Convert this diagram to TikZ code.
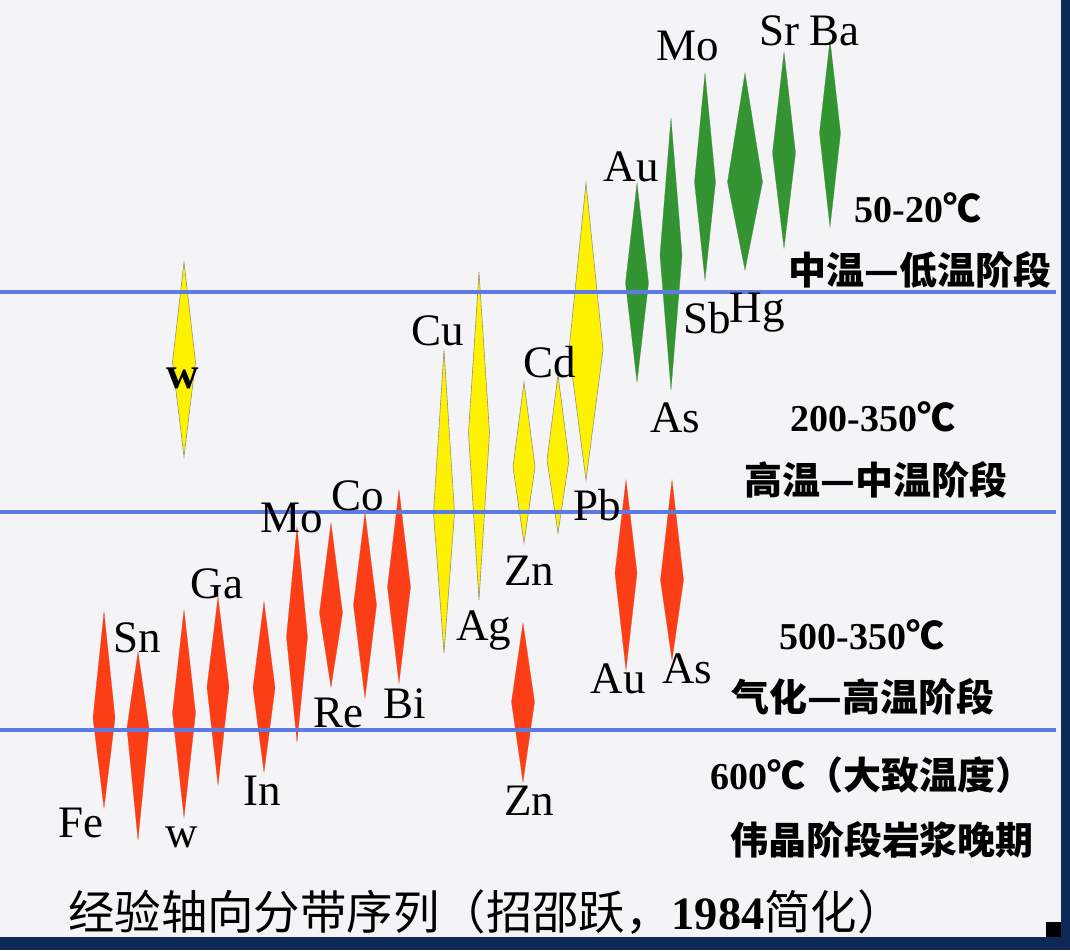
\documentclass[tikz,border=0pt]{standalone}
\usepackage{fontspec}
\setmainfont{Liberation Serif}
\newfontfamily\cjk{Noto Sans CJK SC}
\definecolor{basered}{RGB}{252,62,22}
\definecolor{baseyellow}{RGB}{255,242,0}
\definecolor{basegreen}{RGB}{52,148,50}
\definecolor{baseblue}{RGB}{92,122,226}
\definecolor{basebg}{RGB}{244,244,247}
\definecolor{basenavy}{RGB}{14,40,88}

\begin{document}
\begin{tikzpicture}[x=0.025cm, y=-0.025cm]
  \tikzset{
    red_vein/.style={fill=basered, draw=basered!85!gray, very thin},
    yellow_vein/.style={fill=baseyellow, draw=gray!85!olive, thin},
    green_vein/.style={fill=basegreen, draw=basegreen!85!gray, very thin},
    stage_line/.style={draw=baseblue, line width=3.4pt},
    elem_label/.style={anchor=base, inner sep=0pt, font=\fontsize{32}{36}\selectfont},
    stage_text/.style={inner sep=0pt, font={\fontsize{27}{30}\cjk\bfseries}},
    title_text/.style={inner sep=0pt, font={\fontsize{33}{36}\cjk}}
  }

  % page and frame
  \useasboundingbox (0,0) rectangle (1070,950);
  \fill[basebg] (0,0) rectangle (1070,950);
  \fill[basenavy] (0,937) rectangle (1070,950);
  \fill[basenavy] (1061,0) rectangle (1070,950);
  \fill[black] (1046,922) rectangle (1061,937);

  % veins: x / top / widest / bottom / half width
  \foreach \x/\t/\m/\b/\w in {104/612/718/808/11, 138/652/728/840/11, 184/610/713/817/11.5,
      218/597/687/785/11, 264/602/688/772/11, 297/527/637/742/10.5, 331/523/613/687/11.5,
      365/513/605/698/11.5, 399/490/587/683/11.5, 523/623/702/782/11.5,
      626/480/573/670/11, 672/480/580/660/11.5} {
    \filldraw[red_vein] (\x,\t) -- (\x+\w,\m) -- (\x,\b) -- (\x-\w,\m) -- cycle;
  }
  \foreach \x/\t/\m/\b/\w in {184/262/362/457/11.5, 444/350/513/653/10.5, 479/272/433/600/10.5,
      524/382/467/543/11, 558/375/460/533/11, 586/183/350/480/17} {
    \filldraw[yellow_vein] (\x,\t) -- (\x+\w,\m) -- (\x,\b) -- (\x-\w,\m) -- cycle;
  }
  \foreach \x/\t/\m/\b/\w in {637/183/283/382/11.5, 671/118/255/390/11, 705/73/182/280/10.5,
      745/73/182/270/17.5, 784/52/153/248/11.5, 830/40/133/227/10.5} {
    \filldraw[green_vein] (\x,\t) -- (\x+\w,\m) -- (\x,\b) -- (\x-\w,\m) -- cycle;
  }

  % stage boundaries
  \foreach \y in {292,512,730} {
    \draw[stage_line] (0,\y) -- (1056,\y);
  }

  % element names
  \foreach \txt/\x/\y [count=\i] in {Fe/81/837, Sn/137/652, w/182/847, Ga/217/598, In/262/805,
      Mo/292/532, Co/358/510, Re/338/727, Bi/405/718, Ag/484/640, Zn/529/585, Zn/529/815,
      Cu/438/345, Cd/550/377, Pb/597/520, As/675/432, Au/618/693, As/687/683,
      Sb/707/333, Hg/757/322, Au/631/181, Mo/688/60, Sr/779/45, Ba/834/45} {
    \node[elem_label] (E-\i) at (\x,\y) {\txt};
  }
  \node[elem_label, font=\fontsize{32}{36}\selectfont\bfseries] (E-w) at (183,388) {w};

  % stage texts
  \node[stage_text] (T-low) at (918,208) {{\rmfamily 50-20}℃};
  \node[stage_text] (S-low) at (920,270) {中温—低温阶段};
  \node[stage_text] (T-mid) at (873,417) {{\rmfamily 200-350}℃};
  \node[stage_text] (S-mid) at (876,480) {高温—中温阶段};
  \node[stage_text] (T-high) at (862,635) {{\rmfamily 500-350}℃};
  \node[stage_text] (S-high) at (863,697) {气化—高温阶段};
  \node[stage_text] (T-peg) at (872,775) {{\rmfamily 600}℃（大致温度）};
  \node[stage_text] (S-peg) at (882,840) {伟晶阶段岩浆晚期};

  \node[title_text] (title) at (486,912) {经验轴向分带序列（招邵跃，{\rmfamily\bfseries 1984}简化）};

\end{tikzpicture}
\end{document}
